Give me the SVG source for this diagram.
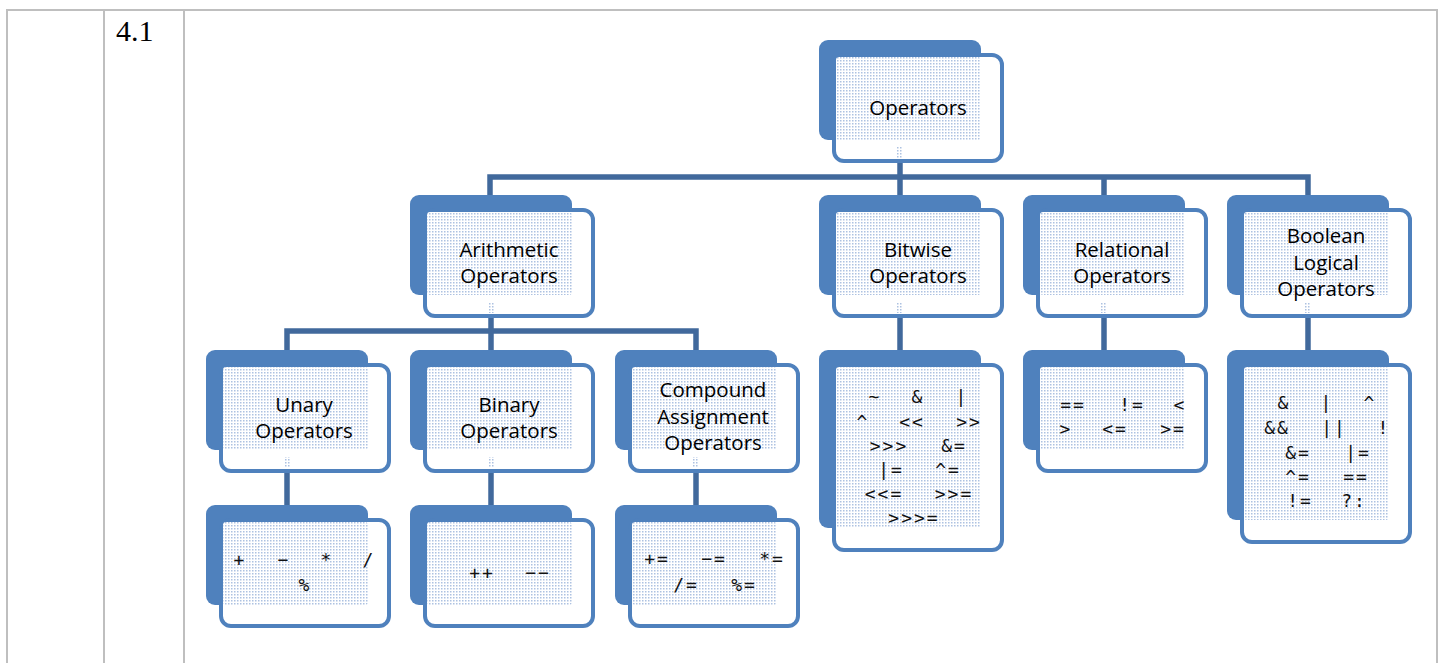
<svg xmlns="http://www.w3.org/2000/svg" width="1444" height="663" viewBox="0 0 1444 663">
<style>
.tbl{stroke:#bfbfbf;stroke-width:2;fill:none}
.back{fill:#4f81bd}
.front{fill:#fff;stroke:#4f81bd;stroke-width:4}
.dot{fill:url(#dots)}
.conn{fill:none;stroke:#41699c;stroke-width:5.5;stroke-linejoin:miter;stroke-linecap:butt}
.lbl{font-family:"Open Sans","Liberation Sans",sans-serif;font-size:20.5px;fill:#000;text-anchor:middle}
.ops{font-family:"DejaVu Sans Mono","Liberation Mono",monospace;font-size:18px;fill:#111;text-anchor:middle;letter-spacing:2px}
.num{font-family:"Liberation Serif",serif;font-size:30px;fill:#000}
</style>
<defs>
<pattern id="dots" width="3" height="3" patternUnits="userSpaceOnUse">
<rect width="3" height="3" fill="#fff"/>
<rect width="1.5" height="1.5" fill="#adc2e1"/>
</pattern>
</defs>
<rect width="1444" height="663" fill="#fff"/>
<g id="table">
<path class="tbl" d="M7,663 V10 H1437 V663 M104,10 V663 M184,10 V663"/>
<text class="num" x="116" y="41">4.1</text>
</g>
<g id="connectors">
<path class="conn" d="M900,163 V177"/>
<path class="conn" d="M490,197 V177 H1308 V197"/>
<path class="conn" d="M900,177 V197 M1104,177 V197"/>
<path class="conn" d="M491,318 V331"/>
<path class="conn" d="M287,352 V331 H696 V352"/>
<path class="conn" d="M491,331 V352"/>
<path class="conn" d="M287,473 V507 M491,473 V507 M696,473 V507"/>
<path class="conn" d="M900,318 V352 M1104,318 V352 M1308,318 V352"/>
</g>
<g id="operators">
<rect class="back" x="819" y="40" width="162" height="100" rx="9"/>
<rect class="front" x="834" y="55" width="168" height="106" rx="10"/>
<rect class="dot" x="836" y="57" width="145" height="83" rx="3"/>
<rect class="dot" x="897" y="147" width="6" height="11"/>
<text class="lbl" x="918" y="115">Operators</text>
</g>
<g id="arithmetic">
<rect class="back" x="410" y="195" width="162" height="100" rx="9"/>
<rect class="front" x="425" y="210" width="168" height="106" rx="10"/>
<rect class="dot" x="427" y="212" width="145" height="83" rx="3"/>
<rect class="dot" x="488" y="302" width="6" height="11"/>
<text class="lbl" x="509" y="257">Arithmetic</text>
<text class="lbl" x="509" y="283">Operators</text>
</g>
<g id="bitwise">
<rect class="back" x="819" y="195" width="162" height="100" rx="9"/>
<rect class="front" x="834" y="210" width="168" height="106" rx="10"/>
<rect class="dot" x="836" y="212" width="145" height="83" rx="3"/>
<rect class="dot" x="897" y="302" width="6" height="11"/>
<text class="lbl" x="918" y="257">Bitwise</text>
<text class="lbl" x="918" y="283">Operators</text>
</g>
<g id="relational">
<rect class="back" x="1023" y="195" width="162" height="100" rx="9"/>
<rect class="front" x="1038" y="210" width="168" height="106" rx="10"/>
<rect class="dot" x="1040" y="212" width="145" height="83" rx="3"/>
<rect class="dot" x="1101" y="302" width="6" height="11"/>
<text class="lbl" x="1122" y="257">Relational</text>
<text class="lbl" x="1122" y="283">Operators</text>
</g>
<g id="boolean">
<rect class="back" x="1227" y="195" width="162" height="100" rx="9"/>
<rect class="front" x="1242" y="210" width="168" height="106" rx="10"/>
<rect class="dot" x="1244" y="212" width="145" height="83" rx="3"/>
<rect class="dot" x="1305" y="302" width="6" height="11"/>
<text class="lbl" x="1326" y="243">Boolean</text>
<text class="lbl" x="1326" y="270">Logical</text>
<text class="lbl" x="1326" y="296">Operators</text>
</g>
<g id="unary">
<rect class="back" x="206" y="350" width="162" height="100" rx="9"/>
<rect class="front" x="221" y="365" width="168" height="106" rx="10"/>
<rect class="dot" x="223" y="367" width="145" height="83" rx="3"/>
<rect class="dot" x="284" y="457" width="6" height="11"/>
<text class="lbl" x="304" y="412">Unary</text>
<text class="lbl" x="304" y="438">Operators</text>
</g>
<g id="binary">
<rect class="back" x="410" y="350" width="162" height="100" rx="9"/>
<rect class="front" x="425" y="365" width="168" height="106" rx="10"/>
<rect class="dot" x="427" y="367" width="145" height="83" rx="3"/>
<rect class="dot" x="488" y="457" width="6" height="11"/>
<text class="lbl" x="509" y="412">Binary</text>
<text class="lbl" x="509" y="438">Operators</text>
</g>
<g id="compound">
<rect class="back" x="615" y="350" width="162" height="100" rx="9"/>
<rect class="front" x="630" y="365" width="168" height="106" rx="10"/>
<rect class="dot" x="632" y="367" width="145" height="83" rx="3"/>
<rect class="dot" x="693" y="457" width="6" height="11"/>
<text class="lbl" x="713" y="397">Compound</text>
<text class="lbl" x="713" y="424">Assignment</text>
<text class="lbl" x="713" y="450">Operators</text>
</g>
<g id="bitwise-ops">
<rect class="back" x="819" y="350" width="162" height="178" rx="9"/>
<rect class="front" x="834" y="365" width="168" height="185" rx="10"/>
<rect class="dot" x="836" y="367" width="145" height="161" rx="3"/>
<text class="ops" y="403"><tspan x="875">~</tspan><tspan x="918">&amp;</tspan><tspan x="962">|</tspan></text>
<text class="ops" y="428"><tspan x="863">^</tspan><tspan x="912">&lt;&lt;</tspan><tspan x="969">&gt;&gt;</tspan></text>
<text class="ops" y="452"><tspan x="889">&gt;&gt;&gt;</tspan><tspan x="954">&amp;=</tspan></text>
<text class="ops" y="476"><tspan x="891">|=</tspan><tspan x="948">^=</tspan></text>
<text class="ops" y="500"><tspan x="884">&lt;&lt;=</tspan><tspan x="954">&gt;&gt;=</tspan></text>
<text class="ops" y="524"><tspan x="914">&gt;&gt;&gt;=</tspan></text>
</g>
<g id="relational-ops">
<rect class="back" x="1023" y="350" width="162" height="100" rx="9"/>
<rect class="front" x="1038" y="365" width="168" height="106" rx="10"/>
<rect class="dot" x="1040" y="367" width="145" height="83" rx="3"/>
<text class="ops" y="411"><tspan x="1073">==</tspan><tspan x="1132">!=</tspan><tspan x="1180">&lt;</tspan></text>
<text class="ops" y="435"><tspan x="1066">&gt;</tspan><tspan x="1115">&lt;=</tspan><tspan x="1173">&gt;=</tspan></text>
</g>
<g id="boolean-ops">
<rect class="back" x="1227" y="350" width="162" height="170" rx="9"/>
<rect class="front" x="1242" y="365" width="168" height="177" rx="10"/>
<rect class="dot" x="1244" y="367" width="145" height="153" rx="3"/>
<text class="ops" y="409"><tspan x="1284">&amp;</tspan><tspan x="1327">|</tspan><tspan x="1370">^</tspan></text>
<text class="ops" y="434"><tspan x="1277">&amp;&amp;</tspan><tspan x="1334">||</tspan><tspan x="1384">!</tspan></text>
<text class="ops" y="459"><tspan x="1298">&amp;=</tspan><tspan x="1358">|=</tspan></text>
<text class="ops" y="483"><tspan x="1298">^=</tspan><tspan x="1356">==</tspan></text>
<text class="ops" y="507"><tspan x="1300">!=</tspan><tspan x="1354">?:</tspan></text>
</g>
<g id="unary-ops">
<rect class="back" x="206" y="505" width="162" height="100" rx="9"/>
<rect class="front" x="221" y="520" width="168" height="106" rx="10"/>
<rect class="dot" x="223" y="522" width="145" height="83" rx="3"/>
<text class="ops" y="566"><tspan x="240">+</tspan><tspan x="284">−</tspan><tspan x="327">*</tspan><tspan x="369">/</tspan></text>
<text class="ops" y="591"><tspan x="305">%</tspan></text>
</g>
<g id="binary-ops">
<rect class="back" x="410" y="505" width="162" height="100" rx="9"/>
<rect class="front" x="425" y="520" width="168" height="106" rx="10"/>
<rect class="dot" x="427" y="522" width="145" height="83" rx="3"/>
<text class="ops" y="579"><tspan x="482">++</tspan><tspan x="538">−−</tspan></text>
</g>
<g id="compound-ops">
<rect class="back" x="615" y="505" width="162" height="100" rx="9"/>
<rect class="front" x="630" y="520" width="168" height="106" rx="10"/>
<rect class="dot" x="632" y="522" width="145" height="83" rx="3"/>
<text class="ops" y="565"><tspan x="657">+=</tspan><tspan x="714">−=</tspan><tspan x="772">*=</tspan></text>
<text class="ops" y="591"><tspan x="686">/=</tspan><tspan x="744">%=</tspan></text>
</g>
</svg>
